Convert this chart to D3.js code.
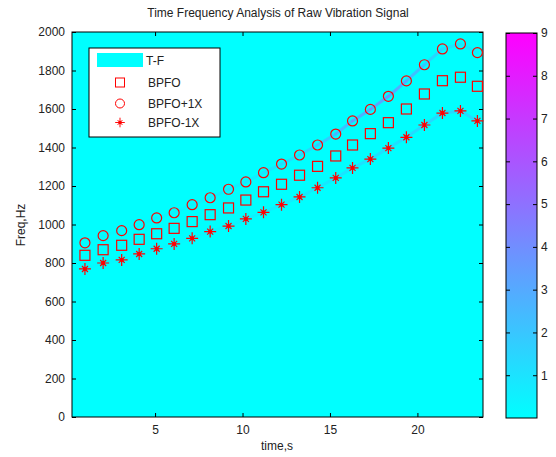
<!DOCTYPE html>
<html>
<head>
<meta charset="utf-8">
<script src="https://cdn.jsdelivr.net/npm/d3@7"></script>
<style>
  body { margin: 0; background: #fff; }
  text { font-family: "Liberation Sans", Arial, sans-serif; }
</style>
</head>
<body>
<div id="chart"></div>
<script>
// marker times (s)
const times = [0.99, 2.03, 3.09, 4.09, 5.09, 6.09, 7.12, 8.15, 9.2, 10.19, 11.2, 12.23,
               13.26, 14.29, 15.33, 16.29, 17.31, 18.34, 19.37, 20.4, 21.43, 22.46, 23.43]
const bpfo = [840, 869, 892, 923, 952, 980, 1015, 1051, 1086, 1127, 1170, 1209,
              1256, 1302, 1356, 1413, 1472, 1529, 1600, 1678, 1747, 1765, 1718]
const bpfoPlus = [905, 942, 968, 999, 1034, 1061, 1103, 1139, 1183, 1221, 1269, 1314,
                  1361, 1413, 1470, 1538, 1598, 1666, 1746, 1830, 1912, 1938, 1893]
const bpfoMinus = [769, 800, 816, 847, 874, 899, 928, 963, 992, 1029, 1063, 1103,
                   1143, 1191, 1242, 1294, 1340, 1397, 1453, 1517, 1579, 1590, 1538]
// rough T-F ridge strength along the sidebands
const ridgePlus = [0.3, 0.3, 0.3, 0.3, 0.4, 0.4, 0.5, 0.6, 0.7, 0.8, 1, 1.2,
                   1.6, 2.2, 2.8, 3.4, 3.8, 4.2, 3.6, 2.4, 1.4, 1, 0.8]
const ridgeMinus = [0.2, 0.2, 0.2, 0.2, 0.3, 0.3, 0.3, 0.4, 0.5, 0.6, 0.7, 0.8,
                    0.9, 1, 1.2, 1.3, 1.4, 1.5, 1.6, 1.7, 1.8, 1.8, 1.6]

const xTicks = [5, 10, 15, 20]
const yTicks = [0, 200, 400, 600, 800, 1000, 1200, 1400, 1600, 1800, 2000]
const cTicks = [1, 2, 3, 4, 5, 6, 7, 8, 9]
const legendNames = ["T-F", "BPFO", "BPFO+1X", "BPFO-1X"]

const W = 556, H = 457
const plot = { left: 72, top: 32, right: 483, bottom: 417 }

const svg = d3.select("#chart").append("svg")
  .attr("width", W).attr("height", H)

const x = d3.scaleLinear().domain([0.25, 23.75]).range([plot.left, plot.right])
const y = d3.scaleLinear().domain([0, 2000]).range([plot.bottom, plot.top])
const color = d3.scaleLinear().domain([0, 9]).range(["#00ffff", "#ff00ff"])

// T-F background
svg.append("rect")
  .attr("x", plot.left).attr("y", plot.top)
  .attr("width", plot.right - plot.left).attr("height", plot.bottom - plot.top)
  .attr("fill", color(0))

// ridges
const ridge = svg.append("g").attr("clip-path", "url(#clip)")
svg.append("clipPath").attr("id", "clip").append("rect")
  .attr("x", plot.left).attr("y", plot.top)
  .attr("width", plot.right - plot.left).attr("height", plot.bottom - plot.top)

function drawRidge(vals, levels) {
  for (let i = 0; i < times.length - 1; i++) {
    ridge.append("line")
      .attr("x1", x(times[i])).attr("y1", y(vals[i]))
      .attr("x2", x(times[i + 1])).attr("y2", y(vals[i + 1]))
      .attr("stroke", color((levels[i] + levels[i + 1]) / 2))
      .attr("stroke-width", 3)
      .attr("stroke-linecap", "round")
      .attr("opacity", 0.75)
  }
}
drawRidge(bpfoPlus, ridgePlus)
drawRidge(bpfoMinus, ridgeMinus)

// axes (MATLAB style: ticks inside, box)
svg.append("g")
  .attr("transform", "translate(0," + plot.bottom + ")")
  .call(d3.axisBottom(x).tickValues(xTicks).tickSizeInner(-4).tickSizeOuter(0).tickPadding(8))
svg.append("g")
  .attr("transform", "translate(" + plot.left + ",0)")
  .call(d3.axisLeft(y).tickValues(yTicks).tickFormat(d3.format("d"))
    .tickSizeInner(-4).tickSizeOuter(0).tickPadding(7))
svg.append("g")
  .attr("transform", "translate(0," + plot.top + ")")
  .call(d3.axisTop(x).tickValues(xTicks).tickSizeInner(-4).tickSizeOuter(0).tickFormat(""))
svg.append("g")
  .attr("transform", "translate(" + plot.right + ",0)")
  .call(d3.axisRight(y).tickValues(yTicks).tickSizeInner(-4).tickSizeOuter(0).tickFormat(""))
svg.selectAll(".domain").remove()
svg.selectAll(".tick text").attr("font-size", "12px").attr("fill", "#222")
  .attr("font-family", "Liberation Sans, Arial, sans-serif")
svg.selectAll(".tick line").attr("stroke", "#000")

svg.append("rect")
  .attr("x", plot.left).attr("y", plot.top)
  .attr("width", plot.right - plot.left).attr("height", plot.bottom - plot.top)
  .attr("fill", "none").attr("stroke", "#000").attr("stroke-width", 1)

// markers
const markers = svg.append("g")
const red = "#ff0000"
markers.selectAll(".sq").data(times).enter().append("rect")
  .attr("x", (d) => x(d) - 5).attr("y", (d, i) => y(bpfo[i]) - 5)
  .attr("width", 10).attr("height", 10)
  .attr("fill", "none").attr("stroke", red).attr("stroke-width", 1.2)
markers.selectAll(".ci").data(times).enter().append("circle")
  .attr("cx", (d) => x(d)).attr("cy", (d, i) => y(bpfoPlus[i]))
  .attr("r", 5)
  .attr("fill", "none").attr("stroke", red).attr("stroke-width", 1.2)

const starPath = "M0,-6V6M-6,0H6M-3,-3L3,3M-3,3L3,-3"
markers.selectAll(".st").data(times).enter().append("g")
  .attr("transform", (d, i) => "translate(" + x(d) + "," + y(bpfoMinus[i]) + ")")
  .each(function () {
    d3.select(this).append("path").attr("d", starPath)
      .attr("stroke", red).attr("stroke-width", 1.2).attr("fill", "none")
    d3.select(this).append("circle").attr("r", 2).attr("fill", red)
  })

// legend
const lg = svg.append("g")
lg.append("rect").attr("x", 89).attr("y", 48).attr("width", 131).attr("height", 89)
  .attr("fill", "#fff").attr("stroke", "#000")
lg.append("rect").attr("x", 97).attr("y", 53).attr("width", 46).attr("height", 14)
  .attr("fill", color(0))
const rowY = [61, 82.5, 103.5, 122.5]
lg.selectAll(".lt").data(legendNames).enter().append("text")
  .attr("x", (d, i) => i === 0 ? 146 : 148)
  .attr("y", (d, i) => rowY[i]).attr("dy", "0.35em")
  .attr("font-size", "12px").attr("fill", "#222").text((d) => d)
lg.append("rect").attr("x", 115.5).attr("y", rowY[1] - 4.5).attr("width", 9).attr("height", 9)
  .attr("fill", "none").attr("stroke", red)
lg.append("circle").attr("cx", 120).attr("cy", rowY[2]).attr("r", 4.5)
  .attr("fill", "none").attr("stroke", red)
lg.append("path").attr("d", starPath)
  .attr("transform", "translate(120," + rowY[3] + ") scale(0.8)")
  .attr("stroke", red).attr("fill", "none").attr("stroke-width", 1.2)
lg.append("circle").attr("cx", 120).attr("cy", rowY[3]).attr("r", 1.8).attr("fill", red)

// colorbar
const cb = { left: 506, right: 537, top: 33, bottom: 418 }
const c = d3.scaleLinear().domain([0, 9]).range([cb.bottom, cb.top])
const defs = svg.append("defs")
const grad = defs.append("linearGradient").attr("id", "cbar")
  .attr("x1", 0).attr("y1", 1).attr("x2", 0).attr("y2", 0)
d3.range(0, 10).forEach((v) => {
  grad.append("stop").attr("offset", v / 9).attr("stop-color", color(v))
})
svg.append("rect")
  .attr("x", cb.left).attr("y", cb.top)
  .attr("width", cb.right - cb.left).attr("height", cb.bottom - cb.top)
  .attr("fill", "url(#cbar)").attr("stroke", "#000")
svg.append("g")
  .attr("transform", "translate(" + cb.right + ",0)")
  .call(d3.axisRight(c).tickValues(cTicks).tickSizeInner(-4).tickSizeOuter(0).tickPadding(4))
  .call((g) => g.select(".domain").remove())
  .call((g) => g.selectAll("text").attr("font-size", "12px").attr("fill", "#222")
    .attr("font-family", "Liberation Sans, Arial, sans-serif"))
svg.append("g")
  .attr("transform", "translate(" + cb.left + ",0)")
  .call(d3.axisLeft(c).tickValues(cTicks).tickSizeInner(-4).tickSizeOuter(0).tickFormat(""))
  .call((g) => g.select(".domain").remove())

// titles
svg.append("text").attr("x", 278).attr("y", 17).attr("text-anchor", "middle")
  .attr("font-size", "12px").attr("fill", "#222").text("Time Frequency Analysis of Raw Vibration Signal")
svg.append("text").attr("x", 277).attr("y", 450).attr("text-anchor", "middle")
  .attr("font-size", "12px").attr("fill", "#222").text("time,s")
svg.append("text").attr("transform", "translate(25,225) rotate(-90)")
  .attr("text-anchor", "middle").attr("font-size", "12px").attr("fill", "#222").text("Freq,Hz")
</script>
</body>
</html>
